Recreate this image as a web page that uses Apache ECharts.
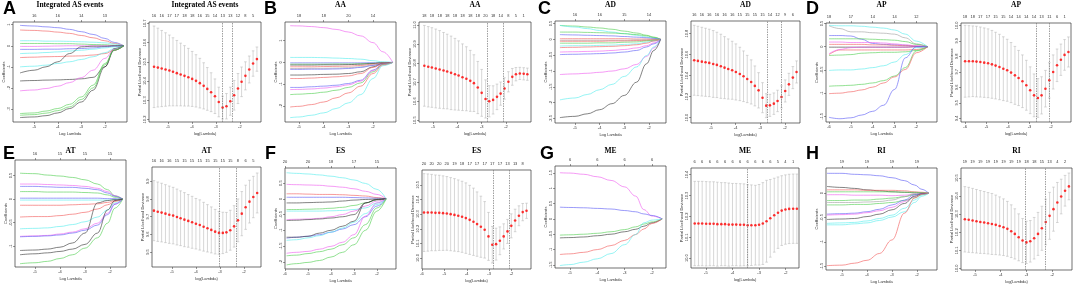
<!DOCTYPE html>
<html>
<head>
<meta charset="utf-8">
<script src="https://cdn.jsdelivr.net/npm/echarts@6/dist/echarts.min.js"></script>
<style>
  html, body { margin: 0; padding: 0; background: #fff; }
  #chart { width: 1074px; height: 286px; }
</style>
</head>
<body>
<div id="chart"></div>
<script>
// ---- data (log lambda on x) ----
const ticks5 = [-5, -4, -3, -2];
const ticks6 = [-6, -5, -4, -3, -2];

// A: Integrated AS events
const coefXA = [-5.6, -5, -4.5, -4, -3.5, -3, -2.5, -2, -1.6, -1.2];
const pathsA = [
  [0.97, 0.94, 0.9, 0.86, 0.78, 0.67, 0.54, 0.35, 0.16, 0],
  [0.75, 0.73, 0.7, 0.65, 0.59, 0.49, 0.38, 0.24, 0.11, 0],
  [0.24, 0.24, 0.22, 0.22, 0.21, 0.19, 0.17, 0.14, 0.08, 0],
  [0.11, 0.11, 0.11, 0.1, 0.1, 0.08, 0.06, 0.05, 0.02, 0],
  [-0.03, -0.03, -0.02, -0.01, 0, 0, 0, 0, 0, 0],
  [-0.17, -0.17, -0.16, -0.16, -0.14, -0.13, -0.1, -0.05, -0.02, 0],
  [-0.37, -0.35, -0.32, -0.29, -0.25, -0.21, -0.16, -0.1, -0.05, 0],
  [-0.56, -0.54, -0.52, -0.51, -0.49, -0.48, -0.44, -0.37, -0.21, 0],
  [-1.0, -0.97, -0.92, -0.84, -0.76, -0.65, -0.52, -0.33, -0.13, 0],
  [-1.29, -1.16, -1.0, -0.76, -0.37, -0.05, -0.02, -0.02, 0, 0],
  [-1.67, -1.65, -1.63, -1.62, -1.6, -1.57, -1.5, -1.0, -0.13, 0],
  [-2.14, -2.1, -2.03, -1.92, -1.75, -1.51, -1.16, -0.6, -0.17, 0],
  [-3.22, -3.19, -3.1, -2.98, -2.78, -2.43, -1.87, -0.84, -0.21, 0],
  [-3.41, -3.38, -3.32, -3.19, -2.98, -2.67, -2.11, -1.0, -0.21, 0],
  [-3.3, -3.27, -3.2, -3.08, -2.9, -2.55, -2.0, -0.9, -0.2, 0]
];
const coefYTicksA = [1, 0, -1, -2, -3];
const nzCoefA = [16, 16, 14, 13];
const cvXA = [-5.58, -5.42, -5.26, -5.10, -4.94, -4.79, -4.63, -4.47, -4.31, -4.15, -3.99, -3.83, -3.67, -3.51, -3.36, -3.20, -3.04, -2.88, -2.72, -2.56, -2.40, -2.24, -2.08, -1.93, -1.77, -1.61, -1.45, -1.29];
const cvMeanA = [10.474, 10.470, 10.465, 10.460, 10.455, 10.448, 10.441, 10.434, 10.427, 10.420, 10.411, 10.401, 10.389, 10.375, 10.359, 10.342, 10.321, 10.291, 10.262, 10.269, 10.295, 10.326, 10.361, 10.396, 10.427, 10.460, 10.491, 10.514];
const cvSdA = [0.212, 0.205, 0.198, 0.191, 0.184, 0.177, 0.170, 0.163, 0.157, 0.150, 0.143, 0.136, 0.129, 0.120, 0.111, 0.101, 0.090, 0.077, 0.059, 0.066, 0.073, 0.077, 0.078, 0.077, 0.073, 0.070, 0.066, 0.063];
const cvLinesA = [-2.75, -2.33];
const cvYTicksA = [10.2, 10.3, 10.4, 10.5, 10.6, 10.7];
const nzCvA = [16, 16, 17, 17, 18, 18, 16, 15, 14, 13, 13, 12, 8, 5];

// B: AA
const coefXB = [-5.36, -5, -4.5, -4, -3.5, -3, -2.5, -2, -1.6, -1.2];
const pathsB = [
  [1.69, 1.68, 1.65, 1.6, 1.52, 1.4, 1.22, 0.91, 0.49, 0],
  [0.23, 0.23, 0.23, 0.22, 0.2, 0.18, 0.15, 0.08, 0.03, 0],
  [-0.02, -0.02, -0.02, -0.02, -0.02, -0.02, -0.02, -0.01, 0, 0],
  [-0.08, -0.08, -0.08, -0.08, -0.07, -0.07, -0.06, -0.04, -0.01, 0],
  [-0.12, -0.12, -0.12, -0.11, -0.11, -0.1, -0.08, -0.05, -0.02, 0],
  [-0.2, -0.2, -0.2, -0.19, -0.18, -0.17, -0.14, -0.08, -0.03, 0],
  [-0.28, -0.28, -0.27, -0.27, -0.26, -0.24, -0.2, -0.12, -0.04, 0],
  [-0.32, -0.32, -0.31, -0.31, -0.3, -0.28, -0.23, -0.14, -0.05, 0],
  [-0.58, -0.58, -0.57, -0.55, -0.54, -0.51, -0.43, -0.2, -0.05, 0],
  [-0.74, -0.74, -0.72, -0.69, -0.66, -0.62, -0.51, -0.23, -0.05, 0],
  [-1.15, -1.15, -1.12, -1.09, -1.05, -0.97, -0.82, -0.35, -0.08, 0],
  [-1.25, -1.24, -1.22, -1.18, -1.12, -1.03, -0.86, -0.38, -0.09, 0],
  [-1.48, -1.46, -1.43, -1.37, -1.28, -1.15, -0.94, -0.43, -0.09, 0],
  [-2.05, -2.02, -1.94, -1.82, -1.63, -1.4, -1.09, -0.51, -0.12, 0],
  [-2.54, -2.51, -2.43, -2.32, -2.12, -1.86, -1.48, -0.74, -0.15, 0]
];
const coefYTicksB = [1, 0, -1, -2];
const nzCoefB = [18, 18, 20, 14];
const cvXB = [-5.36, -5.20, -5.05, -4.89, -4.73, -4.57, -4.42, -4.26, -4.10, -3.95, -3.79, -3.63, -3.47, -3.32, -3.16, -3.00, -2.84, -2.69, -2.53, -2.37, -2.22, -2.06, -1.90, -1.74, -1.59, -1.43, -1.27, -1.12];
const cvMeanB = [10.786, 10.781, 10.777, 10.772, 10.767, 10.761, 10.756, 10.749, 10.742, 10.735, 10.726, 10.718, 10.707, 10.695, 10.672, 10.644, 10.612, 10.600, 10.607, 10.623, 10.640, 10.667, 10.702, 10.728, 10.742, 10.746, 10.744, 10.742];
const cvSdB = [0.212, 0.211, 0.209, 0.207, 0.204, 0.2, 0.196, 0.193, 0.188, 0.182, 0.175, 0.168, 0.16, 0.149, 0.137, 0.123, 0.1, 0.082, 0.074, 0.067, 0.061, 0.056, 0.053, 0.044, 0.035, 0.032, 0.032, 0.032];
const cvLinesB = [-2.77, -2.11];
const cvYTicksB = [10.5, 10.6, 10.7, 10.8, 10.9, 11];
const nzCvB = [18, 18, 18, 18, 18, 18, 18, 18, 20, 18, 14, 8, 5, 1];

// C: AD
const coefXC = [-5.61, -5, -4.5, -4, -3.5, -3, -2.5, -2.1, -1.8, -1.53];
const pathsC = [
  [0.44, 0.42, 0.39, 0.36, 0.32, 0.26, 0.2, 0.13, 0.07, 0],
  [0.44, 0.39, 0.34, 0.28, 0.23, 0.18, 0.13, 0.07, 0.04, 0],
  [0.23, 0.23, 0.22, 0.21, 0.2, 0.18, 0.15, 0.11, 0.06, 0],
  [0.15, 0.14, 0.13, 0.12, 0.11, 0.09, 0.07, 0.05, 0.03, 0],
  [0.02, 0.02, 0.02, 0.02, 0.02, 0.02, 0.01, 0.01, 0, 0],
  [-0.03, -0.03, -0.03, -0.03, -0.03, -0.03, -0.02, -0.02, -0.01, 0],
  [-0.06, -0.06, -0.06, -0.06, -0.05, -0.05, -0.04, -0.03, -0.02, 0],
  [-0.12, -0.12, -0.12, -0.11, -0.11, -0.09, -0.08, -0.05, -0.03, 0],
  [-0.21, -0.2, -0.2, -0.19, -0.18, -0.16, -0.14, -0.09, -0.05, 0],
  [-0.26, -0.25, -0.24, -0.23, -0.22, -0.2, -0.17, -0.12, -0.05, 0],
  [-0.4, -0.39, -0.38, -0.37, -0.35, -0.32, -0.27, -0.2, -0.11, 0],
  [-0.48, -0.47, -0.46, -0.45, -0.43, -0.4, -0.35, -0.24, -0.14, 0],
  [-1.11, -1.09, -1.07, -1.04, -1.0, -0.93, -0.79, -0.54, -0.27, 0],
  [-1.91, -1.85, -1.74, -1.59, -1.42, -1.17, -0.87, -0.51, -0.24, 0],
  [-2.47, -2.43, -2.35, -2.22, -2.03, -1.77, -1.35, -0.77, -0.35, 0]
];
const coefYTicksC = [0.5, 0, -0.5, -1, -1.5, -2, -2.5];
const nzCoefC = [16, 16, 15, 14];
const cvXC = [-5.68, -5.53, -5.37, -5.22, -5.07, -4.91, -4.76, -4.60, -4.45, -4.30, -4.14, -3.99, -3.83, -3.68, -3.53, -3.37, -3.22, -3.07, -2.91, -2.76, -2.61, -2.45, -2.30, -2.14, -1.99, -1.84, -1.68, -1.53];
const cvMeanC = [10.546, 10.540, 10.533, 10.527, 10.521, 10.511, 10.502, 10.489, 10.476, 10.463, 10.451, 10.435, 10.416, 10.394, 10.368, 10.340, 10.302, 10.260, 10.190, 10.114, 10.117, 10.133, 10.159, 10.197, 10.254, 10.317, 10.381, 10.435];
const cvSdC = [0.333, 0.33, 0.327, 0.324, 0.321, 0.318, 0.311, 0.305, 0.295, 0.286, 0.276, 0.267, 0.254, 0.241, 0.225, 0.21, 0.19, 0.168, 0.143, 0.114, 0.105, 0.102, 0.102, 0.105, 0.105, 0.105, 0.105, 0.105];
const cvLinesC = [-2.70, -2.16];
const cvYTicksC = [10, 10.2, 10.4, 10.6, 10.8];
const nzCvC = [16, 16, 16, 16, 16, 16, 15, 15, 15, 15, 14, 12, 9, 6];

// D: AP
const coefXD = [-6, -5.5, -5, -4.5, -4, -3.5, -3, -2.5, -2, -1.48];
const pathsD = [
  [0.46, 0.45, 0.45, 0.44, 0.42, 0.4, 0.36, 0.27, 0.12, 0],
  [0.45, 0.39, 0.32, 0.32, 0.3, 0.29, 0.27, 0.19, 0.06, 0],
  [0.24, 0.24, 0.23, 0.16, 0.07, 0.05, 0.04, 0.03, 0.01, 0],
  [0.17, 0.17, 0.17, 0.17, 0.16, 0.15, 0.14, 0.11, 0.05, 0],
  [0.1, 0.1, 0.09, 0.09, 0.09, 0.08, 0.06, 0.04, 0.02, 0],
  [0.05, 0.05, 0.05, 0.05, 0.04, 0.04, 0.03, 0.02, 0.01, 0],
  [-0.01, -0.01, -0.01, -0.01, -0.01, -0.01, -0.01, -0.01, 0, 0],
  [-0.17, -0.07, -0.07, -0.07, -0.07, -0.07, -0.07, -0.07, -0.06, 0],
  [-0.19, -0.18, -0.17, -0.14, -0.13, -0.12, -0.12, -0.11, -0.08, 0],
  [-0.15, -0.06, -0.02, -0.01, -0.01, -0.01, -0.01, -0.01, 0, 0],
  [-0.51, -0.5, -0.5, -0.48, -0.45, -0.41, -0.33, -0.17, -0.02, 0],
  [-0.85, -0.84, -0.83, -0.81, -0.78, -0.73, -0.63, -0.45, -0.09, 0],
  [-1.01, -1.0, -0.97, -0.93, -0.87, -0.78, -0.65, -0.49, -0.13, 0],
  [-1.52, -1.55, -1.53, -1.47, -1.39, -1.26, -0.92, -0.24, 0, 0]
];
const coefYTicksD = [0.5, 0, -0.5, -1, -1.5];
const nzCoefD = [18, 17, 14, 14, 12];
const cvXD = [-6.00, -5.82, -5.64, -5.47, -5.29, -5.11, -4.93, -4.75, -4.58, -4.40, -4.22, -4.04, -3.86, -3.68, -3.51, -3.33, -3.15, -2.97, -2.79, -2.61, -2.44, -2.26, -2.08, -1.90, -1.72, -1.54, -1.37, -1.19];
const cvMeanD = [9.768, 9.768, 9.768, 9.766, 9.763, 9.759, 9.755, 9.748, 9.740, 9.731, 9.720, 9.710, 9.695, 9.677, 9.660, 9.639, 9.613, 9.581, 9.548, 9.531, 9.548, 9.591, 9.645, 9.699, 9.742, 9.778, 9.809, 9.828];
const cvSdD = [0.232, 0.23, 0.228, 0.228, 0.226, 0.224, 0.222, 0.219, 0.215, 0.211, 0.206, 0.2, 0.194, 0.187, 0.178, 0.17, 0.161, 0.151, 0.138, 0.125, 0.12, 0.118, 0.114, 0.11, 0.105, 0.101, 0.099, 0.097];
const cvLinesD = [-2.68, -2.06];
const cvYTicksD = [9.4, 9.5, 9.6, 9.7, 9.8, 9.9, 10];
const nzCvD = [18, 18, 17, 17, 15, 15, 14, 14, 14, 14, 13, 11, 6, 1];

// E: AT
const coefXE = [-5.6, -5, -4.5, -4, -3.5, -3, -2.5, -2.1, -1.8, -1.49];
const pathsE = [
  [0.55, 0.54, 0.51, 0.49, 0.46, 0.41, 0.32, 0.2, 0.07, 0],
  [0.32, 0.32, 0.31, 0.3, 0.29, 0.27, 0.23, 0.16, 0.07, 0],
  [0.27, 0.27, 0.26, 0.25, 0.25, 0.23, 0.2, 0.13, 0.06, 0],
  [0.16, 0.16, 0.15, 0.15, 0.15, 0.14, 0.13, 0.09, 0.04, 0],
  [0.02, 0.02, 0.02, 0.02, 0.02, 0.02, 0.02, 0.01, 0.01, 0],
  [-0.02, -0.02, -0.02, -0.02, -0.02, -0.02, -0.02, -0.02, -0.01, 0],
  [-0.13, -0.13, -0.13, -0.13, -0.12, -0.11, -0.1, -0.07, -0.03, 0],
  [-0.38, -0.37, -0.37, -0.35, -0.32, -0.28, -0.21, -0.12, -0.05, 0],
  [-0.63, -0.62, -0.61, -0.58, -0.54, -0.48, -0.38, -0.23, -0.08, 0],
  [-0.79, -0.78, -0.77, -0.74, -0.7, -0.63, -0.51, -0.3, -0.1, 0],
  [-0.8, -0.79, -0.78, -0.76, -0.72, -0.66, -0.55, -0.33, -0.11, 0],
  [-1.09, -1.08, -1.06, -1.02, -0.93, -0.72, -0.08, -0.03, -0.01, 0],
  [-1.18, -1.16, -1.14, -1.11, -1.06, -0.96, -0.72, -0.23, -0.03, 0],
  [-1.37, -1.35, -1.32, -1.26, -1.18, -1.04, -0.82, -0.51, -0.19, 0]
];
const coefYTicksE = [0.5, 0, -0.5, -1];
const nzCoefE = [16, 15, 15, 15];
const cvXE = [-5.75, -5.59, -5.43, -5.27, -5.11, -4.95, -4.79, -4.64, -4.48, -4.32, -4.16, -4.00, -3.84, -3.68, -3.52, -3.36, -3.20, -3.04, -2.88, -2.73, -2.57, -2.41, -2.25, -2.09, -1.93, -1.77, -1.61, -1.45];
const cvMeanE = [9.734, 9.728, 9.723, 9.717, 9.711, 9.706, 9.698, 9.691, 9.683, 9.676, 9.668, 9.660, 9.653, 9.643, 9.634, 9.625, 9.615, 9.608, 9.608, 9.611, 9.623, 9.645, 9.679, 9.717, 9.753, 9.785, 9.811, 9.834];
const cvSdE = [0.17, 0.168, 0.166, 0.164, 0.162, 0.16, 0.158, 0.155, 0.153, 0.149, 0.147, 0.143, 0.142, 0.138, 0.134, 0.13, 0.126, 0.121, 0.117, 0.113, 0.113, 0.117, 0.121, 0.125, 0.125, 0.121, 0.117, 0.113];
const cvLinesE = [-3.01, -2.32];
const cvYTicksE = [9.5, 9.6, 9.7, 9.8, 9.9];
const nzCvE = [16, 16, 16, 15, 15, 15, 15, 15, 15, 15, 15, 8, 6, 5];

// F: ES
const coefXF = [-5.93, -5.5, -5, -4.5, -4, -3.5, -3, -2.5, -2, -1.6];
const pathsF = [
  [0.83, 0.81, 0.79, 0.76, 0.72, 0.67, 0.6, 0.49, 0.3, 0],
  [0.46, 0.45, 0.44, 0.43, 0.4, 0.37, 0.32, 0.24, 0.14, 0],
  [0.16, 0.16, 0.15, 0.14, 0.14, 0.13, 0.11, 0.09, 0.04, 0],
  [0.05, 0.05, 0.05, 0.05, 0.05, 0.05, 0.04, 0.03, 0.02, 0],
  [-0.13, -0.13, -0.12, -0.11, -0.1, -0.07, -0.04, -0.02, -0.01, 0],
  [-0.34, -0.34, -0.33, -0.32, -0.3, -0.27, -0.21, -0.13, -0.04, 0],
  [-0.39, -0.39, -0.39, -0.39, -0.38, -0.37, -0.34, -0.29, -0.13, 0],
  [-0.66, -0.65, -0.64, -0.62, -0.57, -0.5, -0.39, -0.23, -0.07, 0],
  [-0.69, -0.68, -0.66, -0.64, -0.61, -0.57, -0.5, -0.13, -0.02, 0],
  [-1.25, -1.22, -1.19, -1.14, -1.06, -0.96, -0.82, -0.57, -0.23, 0],
  [-1.32, -1.3, -1.24, -1.17, -1.06, -0.93, -0.74, -0.47, -0.18, 0],
  [-1.22, -1.22, -1.19, -1.09, -1.0, -0.87, -0.71, -0.13, -0.02, 0],
  [-1.73, -1.7, -1.67, -1.6, -1.51, -1.38, -1.14, -0.55, -0.13, 0],
  [-1.81, -1.79, -1.74, -1.68, -1.6, -1.46, -1.24, -0.82, -0.29, 0],
  [-2.1, -2.06, -2.02, -1.96, -1.85, -1.7, -1.46, -1.0, -0.39, 0]
];
const coefYTicksF = [0.5, 0, -0.5, -1, -1.5, -2];
const nzCoefF = [20, 20, 18, 17, 15];
const cvXF = [-5.91, -5.74, -5.57, -5.40, -5.23, -5.06, -4.89, -4.72, -4.55, -4.38, -4.21, -4.04, -3.87, -3.70, -3.54, -3.37, -3.20, -3.03, -2.86, -2.69, -2.52, -2.35, -2.18, -2.01, -1.84, -1.67, -1.50, -1.33];
const cvMeanF = [10.311, 10.311, 10.311, 10.309, 10.309, 10.307, 10.305, 10.300, 10.295, 10.289, 10.282, 10.273, 10.261, 10.248, 10.232, 10.214, 10.193, 10.148, 10.091, 10.095, 10.118, 10.148, 10.182, 10.220, 10.257, 10.289, 10.314, 10.323];
const cvSdF = [0.266, 0.264, 0.261, 0.259, 0.257, 0.255, 0.252, 0.25, 0.248, 0.245, 0.243, 0.241, 0.236, 0.23, 0.22, 0.209, 0.193, 0.164, 0.125, 0.109, 0.095, 0.086, 0.082, 0.082, 0.077, 0.068, 0.059, 0.052];
const cvLinesF = [-2.80, -2.10];
const cvYTicksF = [10, 10.1, 10.2, 10.3, 10.4, 10.5];
const nzCvF = [20, 20, 20, 20, 19, 18, 17, 17, 17, 17, 17, 13, 13, 8];

// G: ME
const coefXG = [-5.37, -5, -4.5, -4, -3.5, -3, -2.6, -2.3, -2.0, -1.63];
const pathsG = [
  [1.5, 1.49, 1.45, 1.37, 1.25, 1.04, 0.74, 0.3, 0.09, 0],
  [0.38, 0.37, 0.36, 0.34, 0.32, 0.27, 0.23, 0.16, 0.11, 0],
  [-0.53, -0.52, -0.5, -0.47, -0.42, -0.35, -0.26, -0.17, -0.1, 0],
  [-0.62, -0.61, -0.59, -0.55, -0.5, -0.42, -0.34, -0.24, -0.13, 0],
  [-1.16, -1.14, -1.09, -1.0, -0.87, -0.7, -0.51, -0.33, -0.15, 0],
  [-1.52, -1.49, -1.41, -1.3, -1.13, -0.84, -0.51, -0.13, -0.04, 0]
];
const coefYTicksG = [1.5, 1, 0.5, 0, -0.5, -1, -1.5];
const nzCoefG = [6, 6, 6, 6];
const cvXG = [-5.42, -5.28, -5.14, -4.99, -4.85, -4.71, -4.57, -4.42, -4.28, -4.14, -4.00, -3.86, -3.71, -3.57, -3.43, -3.29, -3.14, -3.00, -2.86, -2.72, -2.58, -2.43, -2.29, -2.15, -2.01, -1.87, -1.72, -1.58];
const cvMeanG = [10.166, 10.166, 10.166, 10.165, 10.165, 10.165, 10.163, 10.163, 10.163, 10.161, 10.161, 10.161, 10.160, 10.160, 10.158, 10.158, 10.158, 10.160, 10.166, 10.177, 10.191, 10.206, 10.218, 10.228, 10.233, 10.236, 10.237, 10.237];
const cvSdG = [0.202, 0.202, 0.202, 0.202, 0.201, 0.201, 0.201, 0.199, 0.199, 0.199, 0.197, 0.197, 0.197, 0.196, 0.194, 0.193, 0.191, 0.193, 0.196, 0.196, 0.186, 0.177, 0.171, 0.167, 0.166, 0.166, 0.166, 0.166];
const cvLinesG = [-3.44];
const cvYTicksG = [10, 10.1, 10.2, 10.3, 10.4];
const nzCvG = [6, 6, 6, 6, 6, 6, 6, 6, 6, 6, 6, 5, 4, 1];

// H: RI
const coefXH = [-5.6, -5, -4.5, -4, -3.5, -3, -2.5, -2.1, -1.8, -1.53];
const pathsH = [
  [0.41, 0.41, 0.39, 0.38, 0.36, 0.32, 0.26, 0.17, 0.08, 0],
  [0.14, 0.12, 0.1, 0.07, 0.05, 0.03, 0.02, 0.01, 0.01, 0],
  [0.07, 0.07, 0.07, 0.06, 0.06, 0.06, 0.05, 0.03, 0.02, 0],
  [0.03, 0.03, 0.03, 0.03, 0.03, 0.03, 0.02, 0.02, 0.01, 0],
  [-0.03, -0.03, -0.04, -0.04, -0.04, -0.05, -0.04, -0.02, -0.01, 0],
  [-0.15, -0.15, -0.14, -0.14, -0.12, -0.1, -0.07, -0.03, -0.01, 0],
  [-0.19, -0.19, -0.19, -0.18, -0.17, -0.14, -0.07, -0.01, 0, 0],
  [-0.24, -0.24, -0.23, -0.23, -0.21, -0.19, -0.15, -0.09, -0.03, 0],
  [-0.43, -0.42, -0.41, -0.38, -0.33, -0.24, -0.14, -0.03, -0.01, 0],
  [-0.45, -0.44, -0.43, -0.4, -0.36, -0.29, -0.17, -0.07, -0.01, 0],
  [-0.54, -0.53, -0.52, -0.48, -0.43, -0.34, -0.21, -0.06, -0.01, 0],
  [-0.62, -0.61, -0.6, -0.57, -0.52, -0.45, -0.31, -0.14, -0.03, 0],
  [-0.65, -0.65, -0.63, -0.61, -0.56, -0.49, -0.38, -0.19, -0.06, 0],
  [-1.49, -1.48, -1.44, -1.38, -1.24, -0.96, -0.41, -0.1, -0.02, 0]
];
const coefYTicksH = [0, -0.5, -1, -1.5];
const nzCoefH = [19, 19, 19, 19];
const cvXH = [-5.39, -5.24, -5.09, -4.94, -4.79, -4.64, -4.49, -4.34, -4.19, -4.04, -3.89, -3.74, -3.59, -3.45, -3.30, -3.15, -3.00, -2.85, -2.70, -2.55, -2.40, -2.25, -2.10, -1.95, -1.80, -1.65, -1.50, -1.35];
const cvMeanH = [10.272, 10.269, 10.265, 10.261, 10.257, 10.254, 10.250, 10.246, 10.241, 10.235, 10.228, 10.219, 10.206, 10.191, 10.172, 10.154, 10.144, 10.150, 10.167, 10.191, 10.222, 10.257, 10.291, 10.328, 10.365, 10.398, 10.430, 10.454];
const cvSdH = [0.181, 0.18, 0.178, 0.176, 0.174, 0.172, 0.17, 0.169, 0.165, 0.161, 0.157, 0.152, 0.146, 0.139, 0.13, 0.122, 0.117, 0.115, 0.115, 0.119, 0.122, 0.126, 0.13, 0.122, 0.111, 0.096, 0.085, 0.074];
const cvLinesH = [-3.06, -2.28];
const cvYTicksH = [10, 10.1, 10.2, 10.3, 10.4, 10.5];
const nzCvH = [19, 19, 19, 19, 19, 19, 19, 19, 18, 18, 15, 13, 4, 2];

// ---- styles: R palette, path colours per panel ----
const pal = { k: '#3c3c3c', r: '#f26060', g: '#55d055', b: '#6262f5', c: '#5ceeee', m: '#f062f0', y: '#a3a3a3' };
const pathColA = ['b', 'r', 'c', 'g', 'm', 'b', 'c', 'r', 'c', 'k', 'k', 'm', 'g', 'k', 'g'];
const pathColB = ['m', 'c', 'b', 'g', 'k', 'r', 'y', 'b', 'k', 'r', 'b', 'm', 'g', 'r', 'c'];
const pathColC = ['g', 'c', 'g', 'b', 'r', 'y', 'r', 'g', 'c', 'r', 'm', 'b', 'm', 'c', 'k'];
const pathColD = ['c', 'y', 'b', 'g', 'm', 'r', 'k', 'r', 'g', 'm', 'c', 'g', 'r', 'b'];
const pathColE = ['g', 'm', 'b', 'g', 'b', 'c', 'r', 'r', 'c', 'm', 'b', 'k', 'k', 'g'];
const pathColF = ['c', 'm', 'r', 'b', 'k', 'g', 'c', 'm', 'k', 'b', 'c', 'k', 'm', 'g', 'g'];
const pathColG = ['m', 'b', 'g', 'k', 'r', 'c'];
const pathColH = ['b', 'k', 'r', 'g', 'm', 'g', 'y', 'g', 'b', 'm', 'k', 'c', 'c', 'r'];

// ---- layout: boxes in px [left, top, width, height] ----
const panels = [
  { name: 'Integrated AS events', letter: 'A', lx: 3, ly: 0, ty: 5.5,
    coef: { box: [13, 22, 114, 100], x: [-5.9, -1.06], y: [-3.62, 1.13], xs: coefXA, paths: pathsA, cols: pathColA, xt: ticks5, yt: coefYTicksA, nz: nzCoefA },
    cv: { box: [149, 22, 112, 100], x: [-5.79, -1.12], y: [10.187, 10.707], xs: cvXA, mean: cvMeanA, sd: cvSdA, lines: cvLinesA, xt: ticks5, yt: cvYTicksA, nz: nzCvA } },
  { name: 'AA', letter: 'B', lx: 264, ly: 0, ty: 5.5,
    coef: { box: [285, 22, 111, 100], x: [-5.57, -1.07], y: [-2.74, 1.86], xs: coefXB, paths: pathsB, cols: pathColB, xt: ticks5, yt: coefYTicksB, nz: nzCoefB },
    cv: { box: [419, 22, 112, 100], x: [-5.58, -0.97], y: [10.491, 11.016], xs: cvXB, mean: cvMeanB, sd: cvSdB, lines: cvLinesB, xt: ticks5, yt: cvYTicksB, nz: nzCvB } },
  { name: 'AD', letter: 'C', lx: 538, ly: 0, ty: 5.5,
    coef: { box: [555, 21, 111, 102], x: [-5.81, -1.31], y: [-2.64, 0.58], xs: coefXC, paths: pathsC, cols: pathColC, xt: ticks5, yt: coefYTicksC, nz: nzCoefC },
    cv: { box: [691, 21, 109, 102], x: [-5.81, -1.39], y: [9.949, 10.92], xs: cvXC, mean: cvMeanC, sd: cvSdC, lines: cvLinesC, xt: ticks5, yt: cvYTicksC, nz: nzCvC } },
  { name: 'AP', letter: 'D', lx: 806, ly: 0, ty: 5.5,
    coef: { box: [826, 23, 111, 99], x: [-6.14, -1.05], y: [-1.62, 0.51], xs: coefXD, paths: pathsD, cols: pathColD, xt: ticks6, yt: coefYTicksD, nz: nzCoefD },
    cv: { box: [961, 23, 110, 99], x: [-6.19, -1.07], y: [9.376, 10.015], xs: cvXD, mean: cvMeanD, sd: cvSdD, lines: cvLinesD, xt: ticks6, yt: cvYTicksD, nz: nzCvD } },
  { name: 'AT', letter: 'E', lx: 3, ly: 145, ty: 151,
    coef: { box: [15, 160, 111, 107], x: [-5.8, -1.36], y: [-1.44, 0.83], xs: coefXE, paths: pathsE, cols: pathColE, xt: ticks5, yt: coefYTicksE, nz: nzCoefE },
    cv: { box: [152, 167, 109, 100], x: [-5.83, -1.29], y: [9.415, 9.981], xs: cvXE, mean: cvMeanE, sd: cvSdE, lines: cvLinesE, xt: ticks5, yt: cvYTicksE, nz: nzCvE } },
  { name: 'ES', letter: 'F', lx: 265, ly: 145, ty: 151,
    coef: { box: [285, 168, 111, 101], x: [-6.0, -1.17], y: [-2.23, 0.98], xs: coefXF, paths: pathsF, cols: pathColF, xt: ticks6, yt: coefYTicksF, nz: nzCoefF },
    cv: { box: [422, 170, 109, 99], x: [-6.0, -1.13], y: [9.925, 10.602], xs: cvXF, mean: cvMeanF, sd: cvSdF, lines: cvLinesF, xt: ticks6, yt: cvYTicksF, nz: nzCvF } },
  { name: 'ME', letter: 'G', lx: 540, ly: 145, ty: 151,
    coef: { box: [555, 166, 111, 102], x: [-5.55, -1.49], y: [-1.6, 1.72], xs: coefXG, paths: pathsG, cols: pathColG, xt: ticks5, yt: coefYTicksG, nz: nzCoefG },
    cv: { box: [691, 168, 108, 100], x: [-5.56, -1.5], y: [9.953, 10.432], xs: cvXG, mean: cvMeanG, sd: cvSdG, lines: cvLinesG, xt: ticks5, yt: cvYTicksG, nz: nzCvG } },
  { name: 'RI', letter: 'H', lx: 806, ly: 145, ty: 151,
    coef: { box: [826, 168, 111, 102], x: [-5.64, -1.2], y: [-1.58, 0.52], xs: coefXH, paths: pathsH, cols: pathColH, xt: ticks5, yt: coefYTicksH, nz: nzCoefH },
    cv: { box: [961, 168, 111, 102], x: [-5.54, -1.23], y: [9.991, 10.556], xs: cvXH, mean: cvMeanH, sd: cvSdH, lines: cvLinesH, xt: ticks5, yt: cvYTicksH, nz: nzCvH } }
];

const sans = 'Liberation Sans, Arial, sans-serif';
const serif = 'Liberation Serif, Times New Roman, serif';
const small = { fontSize: 4, color: '#333', fontFamily: sans };
const tick = { show: true, length: 2, lineStyle: { color: '#333', width: 0.5 } };
const noLine = { show: false, onZero: false };

const grid = [], xAxis = [], yAxis = [], series = [], graphic = [];

// error bars with little caps
function errBar(params, api) {
  const x = api.value(0);
  const lo = api.coord([x, api.value(1)]);
  const hi = api.coord([x, api.value(2)]);
  const st = { stroke: '#bcbcbc', lineWidth: 0.6 };
  return {
    type: 'group',
    children: [
      { type: 'line', shape: { x1: lo[0], y1: lo[1], x2: hi[0], y2: hi[1] }, style: st },
      { type: 'line', shape: { x1: lo[0] - 1.3, y1: lo[1], x2: lo[0] + 1.3, y2: lo[1] }, style: st },
      { type: 'line', shape: { x1: hi[0] - 1.3, y1: hi[1], x2: hi[0] + 1.3, y2: hi[1] }, style: st }
    ]
  };
}

function addPlot(p, kind, title, ty) {
  const gi = grid.length;
  const [l, t, w, h] = p.box;
  grid.push({ left: l, top: t, width: w, height: h, show: true, borderColor: '#333', borderWidth: 0.7,
    containLabel: false, outerBoundsMode: 'none' });

  // bottom axis
  xAxis.push({
    type: 'value', gridIndex: gi, min: p.x[0], max: p.x[1], position: 'bottom',
    axisLine: noLine, splitLine: { show: false },
    axisTick: { ...tick, customValues: p.xt },
    axisLabel: { ...small, customValues: p.xt, margin: 3 },
    name: kind === 'coef' ? 'Log Lambda' : 'log(Lambda)',
    nameLocation: 'middle', nameGap: 10, nameTextStyle: small
  });

  // top axis: number of non-zero coefficients
  const topPos = kind === 'coef' ? p.xt : p.xs.filter((_, i) => i % 2 === 0);
  const lab = new Map(topPos.map((v, i) => [v.toFixed(3), String(p.nz[i])]));
  xAxis.push({
    type: 'value', gridIndex: gi, min: p.x[0], max: p.x[1], position: 'top',
    axisLine: noLine, splitLine: { show: false },
    axisTick: kind === 'coef' ? { ...tick, customValues: topPos } : { show: false },
    axisLabel: { ...small, customValues: topPos, margin: 4, formatter: v => lab.get(v.toFixed(3)) || '' }
  });

  yAxis.push({
    type: 'value', gridIndex: gi, min: p.y[0], max: p.y[1],
    axisLine: noLine, splitLine: { show: false },
    axisTick: { ...tick, customValues: p.yt },
    axisLabel: { ...small, customValues: p.yt, rotate: 90, margin: 2,
      formatter: v => kind === 'cv' ? v.toFixed(1) : String(v) },
    name: kind === 'coef' ? 'Coefficients' : 'Partial Likelihood Deviance',
    nameLocation: 'middle', nameGap: 7, nameRotate: 90, nameTextStyle: small
  });

  if (kind === 'coef') {
    p.paths.forEach((vals, k) => {
      series.push({
        type: 'line', xAxisIndex: 2 * gi, yAxisIndex: gi,
        data: p.xs.map((x, i) => [x, vals[i]]),
        smooth: 0.4, smoothMonotone: 'x', showSymbol: false, silent: true,
        lineStyle: { color: pal[p.cols[k]], width: 0.8, opacity: 0.8 }, z: 2
      });
    });
  } else {
    series.push({
      type: 'custom', xAxisIndex: 2 * gi, yAxisIndex: gi, silent: true, z: 1,
      renderItem: errBar, encode: { x: 0, y: [1, 2] },
      data: p.xs.map((x, i) => [x, p.mean[i] - p.sd[i], p.mean[i] + p.sd[i]])
    });
    series.push({
      type: 'scatter', xAxisIndex: 2 * gi, yAxisIndex: gi, silent: true, z: 3,
      data: p.xs.map((x, i) => [x, p.mean[i]]),
      symbolSize: 2.6, itemStyle: { color: '#ff0000' },
      markLine: {
        silent: true, symbol: 'none', label: { show: false },
        lineStyle: { color: '#777', type: [1.5, 1], width: 0.7 },
        data: p.lines.map(v => ({ xAxis: v }))
      }
    });
  }

  graphic.push({
    type: 'text', x: l + w / 2, y: ty,
    style: { text: title, font: 'bold 7.5px ' + serif, fill: '#000',
      align: 'center', verticalAlign: 'middle', textAlign: 'center', textVerticalAlign: 'middle' }
  });
}

panels.forEach(pn => {
  addPlot(pn.coef, 'coef', pn.name, pn.ty);
  addPlot(pn.cv, 'cv', pn.name, pn.ty);
  graphic.push({
    type: 'text', x: pn.lx, y: pn.ly,
    style: { text: pn.letter, font: 'bold 18px ' + sans, fill: '#000',
      align: 'left', verticalAlign: 'top', textAlign: 'left', textVerticalAlign: 'top' }
  });
});

const chart = echarts.init(document.getElementById('chart'), null, { renderer: 'canvas' });
chart.setOption({
  animation: false,
  backgroundColor: '#fff',
  grid, xAxis, yAxis, series, graphic
});
</script>
</body>
</html>
